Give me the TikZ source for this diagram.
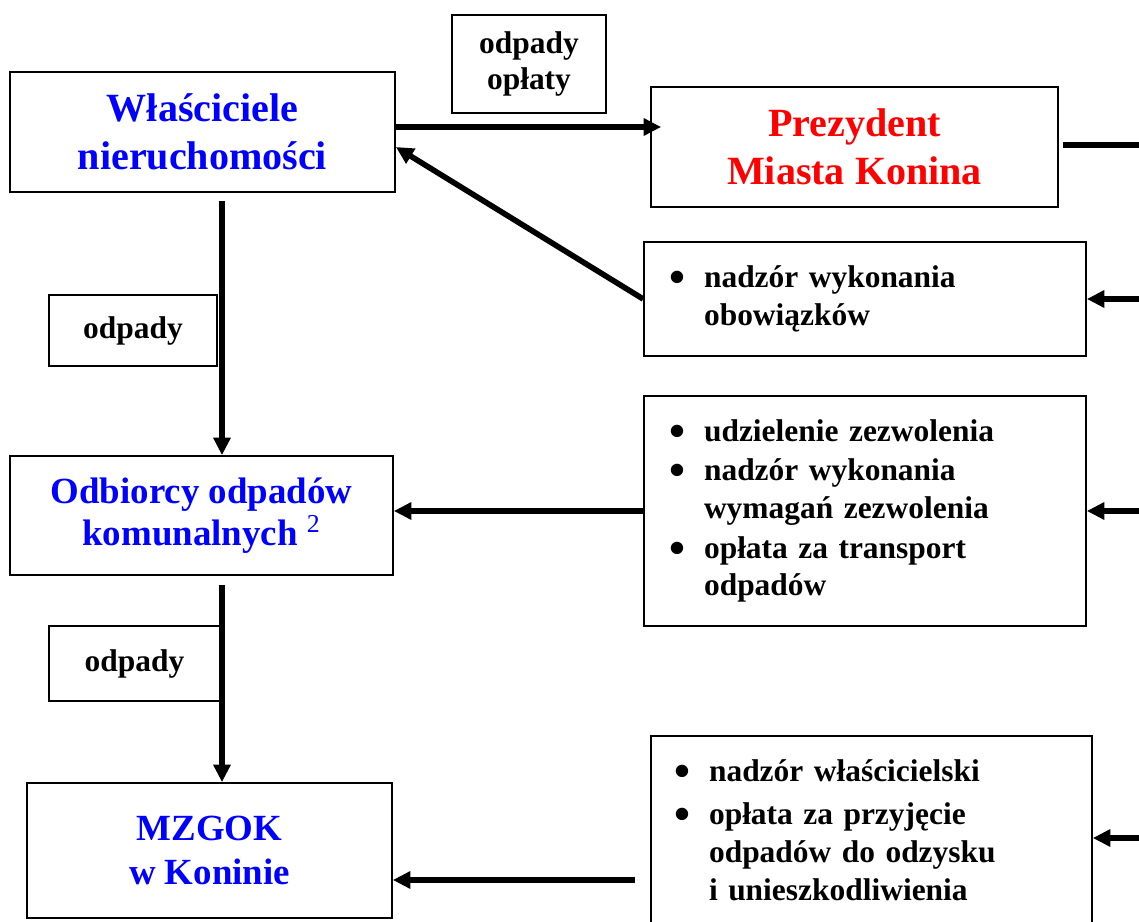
\documentclass[tikz,border=0pt]{standalone}
\usepackage{fontspec}
\setmainfont{Liberation Serif}
\usetikzlibrary{arrows.meta}

\newcommand{\bitem}{\makebox[0.7cm][l]{\raisebox{-2.8pt}[0pt][0pt]{\scalebox{1.45}{\textbullet}}}}
\newcommand{\bcont}{\hspace*{0.7cm}}

\begin{document}
\begin{tikzpicture}[x=0.02cm, y=-0.02cm, >={Triangle[length=10pt,width=9.5pt]}]
\tikzstyle{box_style} = [rectangle, draw=black, line width=1pt, inner sep=0pt, align=center]
\tikzstyle{main_style} = [box_style, text=blue, font=\fontsize{22.8pt}{27.3pt}\selectfont\bfseries]
\tikzstyle{label_style} = [box_style, font=\fontsize{17.9pt}{20.5pt}\selectfont\bfseries]
\tikzstyle{list_style} = [box_style, align=left, text width=7.84cm, font=\fontsize{17.9pt}{21.5pt}\selectfont\bfseries]
\tikzstyle{edge_style} = [draw=black, line width=3.2pt]

\useasboundingbox (0,0) rectangle (1139,922);
\clip (0,0) rectangle (1139,922);

% boxes on the left
\node[main_style, minimum width=7.7cm, minimum height=2.4cm] (owners) at (202.5,132) {Właściciele\\nieruchomości};
\node[main_style, minimum width=7.66cm, minimum height=2.38cm, font=\fontsize{21pt}{24pt}\selectfont\bfseries] (collectors) at (201.5,515.5) {Odbiorcy odpadów\\komunalnych \textsuperscript{\mdseries 2}};
\node[main_style, minimum width=7.3cm, minimum height=2.7cm, font=\fontsize{21pt}{25.5pt}\selectfont\bfseries] (mzgok) at (209.5,850.5) {MZGOK\\w Koninie};

\node[label_style, minimum width=3.08cm, minimum height=1.96cm] (fees) at (529,64) {odpady\\opłaty};
\node[label_style, minimum width=3.36cm, minimum height=1.42cm] (waste1) at (133,330.5) {odpady};
\node[label_style, minimum width=3.42cm, minimum height=1.5cm] (waste2) at (134.5,663.5) {odpady};

% boxes on the right
\node[main_style, text=red, minimum width=8.14cm, minimum height=2.4cm] (mayor) at (854.5,147) {Prezydent\\Miasta Konina};

\node[list_style, minimum width=8.84cm, minimum height=2.28cm] (task1) at (865,299)
  {\bitem nadzór wykonania\\\bcont obowiązków};
\node[list_style, minimum width=8.84cm, minimum height=4.6cm] (task2) at (865,511)
  {\bitem udzielenie zezwolenia\\[1pt]\bitem nadzór wykonania\\\bcont wymagań zezwolenia\\[1pt]\bitem opłata za transport\\\bcont odpadów};
\node[list_style, text width=7.9cm, minimum width=8.82cm, minimum height=3.76cm] (task3) at (871.5,830)
  {\bitem nadzór właścicielski\\[3pt]\bitem opłata za przyjęcie\\\bcont odpadów do odzysku\\\bcont i unieszkodliwienia};

% helper points
\coordinate (a1) at (0,127);
\coordinate (a2) at (0,147);
\coordinate (a3) at (222,0);
\coordinate (a4) at (0,511);
\coordinate (a5) at (0,880);
\coordinate (r1) at (1139,145);
\coordinate (r2) at (1139,299);
\coordinate (r3) at (1139,511);
\coordinate (r4) at (1139,838);

% connectors
\draw[edge_style, ->, shorten >=-0.22cm] (owners.east |- a1) -- (mayor.west |- a1);
\draw[edge_style, shorten >=0.08cm] (r1) -- (mayor.east |- r1);
\draw[edge_style, ->] (r2) -- (task1.east |- r2);
\draw[edge_style, ->] (task1.west) -- (owners.east |- a2);
\draw[edge_style, ->, shorten <=0.16cm] (owners.south -| a3) -- (collectors.north -| a3);
\draw[edge_style, ->] (task2.west |- a4) -- (collectors.east |- a4);
\draw[edge_style, ->] (r3) -- (task2.east |- r3);
\draw[edge_style, ->, shorten <=0.18cm] (collectors.south -| a3) -- (mzgok.north -| a3);
\draw[edge_style, ->, shorten <=0.3cm] (task3.west |- a5) -- (mzgok.east |- a5);
\draw[edge_style, ->] (r4) -- (task3.east |- r4);
\end{tikzpicture}
\end{document}
